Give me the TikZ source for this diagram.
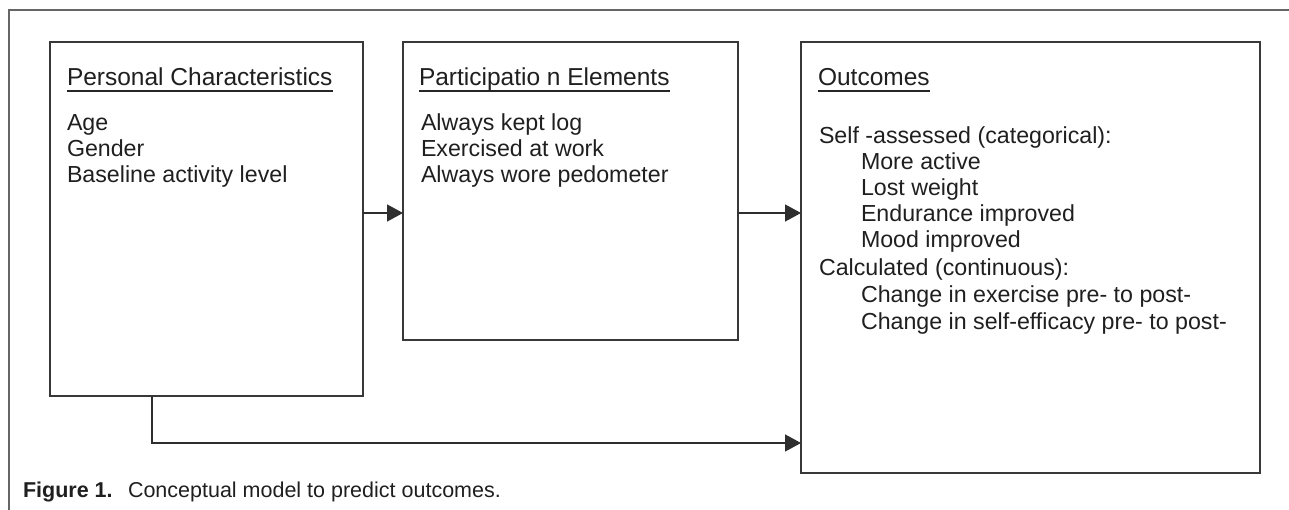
\documentclass[tikz,border=0pt]{standalone}
\usepackage{fontspec}
\setmainfont{Liberation Sans}
\usetikzlibrary{arrows.meta}
\tikzset{
  frameline/.style={draw=black!60, line width=2pt},
  box/.style={draw=black!78, line width=2pt, rectangle, inner sep=0pt, outer sep=0pt, anchor=north west},
  txt/.style={anchor=base west, inner sep=0pt, outer sep=0pt, text=black!88, font=\fontsize{23.2}{27}\selectfont},
  ttl/.style={anchor=base west, inner sep=0pt, outer sep=0pt, text=black!88, font=\fontsize{24.5}{28}\selectfont},
  captxt/.style={anchor=base west, inner sep=0pt, outer sep=0pt, text=black!88, font=\fontsize{21.5}{25}\selectfont},
  uline/.style={draw=black!85, line width=1.3pt},
  conn/.style={draw=black!82, line width=1.5pt, -{Triangle[length=16pt,width=17pt]}}
}
\begin{document}
\begin{tikzpicture}[x=1pt,y=-1pt]
\useasboundingbox (0,0) rectangle (1289,510);
% outer frame (top and left rules)
\coordinate (ftl) at (9,10);
\coordinate (ftr) at (1289,10);
\coordinate (fbl) at (9,510);
\draw[frameline] (ftr) -- (ftl) -- (fbl);

% boxes
\node[box, minimum width=313pt, minimum height=354pt] (P) at (50,41.7) {};
\node[box, minimum width=335pt, minimum height=298pt] (Q) at (403,41.7) {};
\node[box, minimum width=459pt, minimum height=431pt] (O) at (801,41.7) {};

% titles
\node[ttl] (Pt) at (67,85.5) {Personal Characteristics};
\node[ttl] (Qt) at (419,85.5) {Participatio n Elements};
\node[ttl] (Ot) at (818,85.5) {Outcomes};
\foreach \t in {Pt,Qt,Ot}{
  \draw[uline] ([yshift=-5.5pt]\t.base west) -- ([yshift=-5.5pt]\t.base east);
}

% personal characteristics
\node[txt] (p1) at (67,131) {Age};
\node[txt] (p2) at (67,157) {Gender};
\node[txt] (p3) at (67,183) {Baseline activity level};

% participation elements
\node[txt] (q1) at (421,131) {Always kept log};
\node[txt] (q2) at (421,157) {Exercised at work};
\node[txt] (q3) at (421,183) {Always wore pedometer};

% outcomes
\node[txt] (o1) at (819,143.5) {Self -assessed (categorical):};
\node[txt] (o2) at (861,169.5) {More active};
\node[txt] (o3) at (861,195.5) {Lost weight};
\node[txt] (o4) at (861,221.5) {Endurance improved};
\node[txt] (o5) at (861,247.5) {Mood improved};
\node[txt] (o6) at (819,276) {Calculated (continuous):};
\node[txt] (o7) at (861,302.5) {Change in exercise pre- to post-};
\node[txt] (o8) at (861,329) {Change in self-efficacy pre- to post-};

% connectors
\coordinate (ay) at (0,213);
\draw[conn] (P.east |- ay) -- (Q.west |- ay);
\draw[conn] (Q.east |- ay) -- (O.west |- ay);
\coordinate (bend) at (152,443);
\draw[conn] (P.south -| bend) -- (bend) -- (O.west |- bend);

% caption
\node[captxt] (cap1) at (23,497) {\textbf{Figure 1.}};
\node[captxt] (cap2) at (128,497) {Conceptual model to predict outcomes.};
\end{tikzpicture}
\end{document}
